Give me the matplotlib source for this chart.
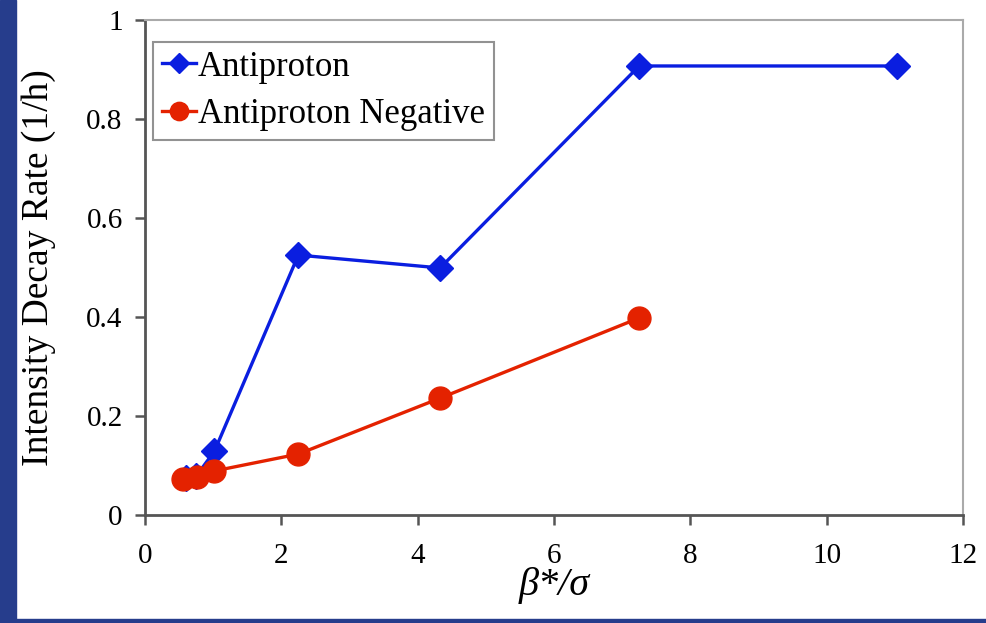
import matplotlib.pyplot as plt
from matplotlib.patches import Rectangle

plt.rcParams['font.family'] = ['Liberation Serif', 'DejaVu Serif']

# data
pbar_x = [0.6, 0.75, 1.02, 2.25, 4.33, 7.25, 11.03]
pbar_y = [0.074, 0.078, 0.129, 0.525, 0.499, 0.907, 0.907]
neg_x = [0.56, 0.76, 1.02, 2.25, 4.33, 7.25]
neg_y = [0.073, 0.077, 0.089, 0.123, 0.236, 0.398]

fig = plt.figure(figsize=(9.86, 6.23), dpi=100)
ax = fig.add_axes([0.147, 0.1734, 0.8297, 0.7946])

# blue slide frame on the left and bottom
fig.patches.append(Rectangle((0, 0), 16 / 986, 1, transform=fig.transFigure,
                             color='#263d8c', zorder=0))
fig.patches.append(Rectangle((0, 0), 1, 4 / 623, transform=fig.transFigure,
                             color='#263d8c', zorder=0))

ax.plot(pbar_x, pbar_y, color='#0a1ee0', marker='D', markersize=13,
        linewidth=2.4, label='Antiproton')
ax.plot(neg_x, neg_y, color='#e42200', marker='o', markersize=16.5,
        linewidth=2.4, label='Antiproton Negative')

ax.set_xlim(0, 12)
ax.set_ylim(0, 1)
ax.set_xticks([0, 2, 4, 6, 8, 10, 12])
ax.set_yticks([0, 0.2, 0.4, 0.6, 0.8, 1])
ax.set_yticklabels(['0', '0.2', '0.4', '0.6', '0.8', '1'])
ax.tick_params(labelsize=21, direction='out', length=7, width=1.8,
               color='#555555', pad=9)
ax.tick_params(axis='x', pad=13)

for s in ['left', 'bottom']:
    ax.spines[s].set_color('#555555')
    ax.spines[s].set_linewidth(2)
for s in ['top', 'right']:
    ax.spines[s].set_color('#aaaaaa')
    ax.spines[s].set_linewidth(1.5)

ax.set_ylabel('Intensity Decay Rate (1/h)', fontsize=27, labelpad=22)
ax.set_xlabel('β*/σ', fontsize=29, style='italic', labelpad=-1)

leg = ax.legend(loc='upper left', bbox_to_anchor=(0.0098, 0.9556),
                fontsize=25, frameon=True, fancybox=False,
                handlelength=1.0, handletextpad=0.05, borderpad=0.25,
                labelspacing=0.42, borderaxespad=0, markerscale=0.8)
leg.get_frame().set_edgecolor('#777777')
leg.get_frame().set_linewidth(1.5)

fig.savefig('out.png', dpi=100)
